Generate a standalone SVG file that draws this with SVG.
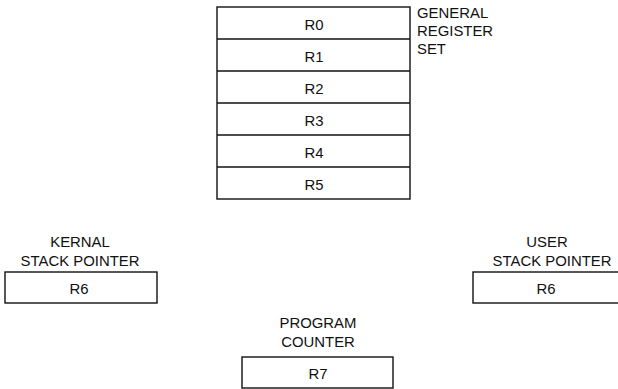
<svg xmlns="http://www.w3.org/2000/svg" width="618" height="389" viewBox="0 0 618 389">
<style>
.box{fill:#fff;stroke:#111;stroke-width:1.4}
text{font-family:"Liberation Sans",Arial,sans-serif;font-size:14.9px;fill:#111}
.c{text-anchor:middle}
</style>
<rect width="618" height="389" fill="#fff"/>
<g id="general-register-set">
<rect class="box" x="217" y="7" width="193" height="192"/>
<line x1="217" y1="39" x2="410" y2="39" stroke="#111" stroke-width="1.4"/>
<line x1="217" y1="71" x2="410" y2="71" stroke="#111" stroke-width="1.4"/>
<line x1="217" y1="103" x2="410" y2="103" stroke="#111" stroke-width="1.4"/>
<line x1="217" y1="135" x2="410" y2="135" stroke="#111" stroke-width="1.4"/>
<line x1="217" y1="167" x2="410" y2="167" stroke="#111" stroke-width="1.4"/>
<text class="c" x="314" y="30">R0</text>
<text class="c" x="314" y="62">R1</text>
<text class="c" x="314" y="94">R2</text>
<text class="c" x="314" y="126">R3</text>
<text class="c" x="314" y="158">R4</text>
<text class="c" x="314" y="190">R5</text>
<text x="417" y="18">GENERAL</text>
<text x="417" y="36">REGISTER</text>
<text x="417" y="54">SET</text>
</g>
<g id="kernal-stack-pointer">
<text class="c" x="80" y="247">KERNAL</text>
<text class="c" x="80" y="266">STACK POINTER</text>
<rect class="box" x="5" y="272" width="152" height="31"/>
<text class="c" x="79" y="294">R6</text>
</g>
<g id="user-stack-pointer">
<text class="c" x="547" y="247">USER</text>
<text class="c" x="552" y="266">STACK POINTER</text>
<rect class="box" x="473" y="272" width="150" height="31"/>
<text class="c" x="546" y="294">R6</text>
</g>
<g id="program-counter">
<text class="c" x="318" y="328">PROGRAM</text>
<text class="c" x="318" y="347">COUNTER</text>
<rect class="box" x="242" y="357" width="151" height="31"/>
<text class="c" x="318" y="379">R7</text>
</g>
<g id="connectors"></g>
</svg>
